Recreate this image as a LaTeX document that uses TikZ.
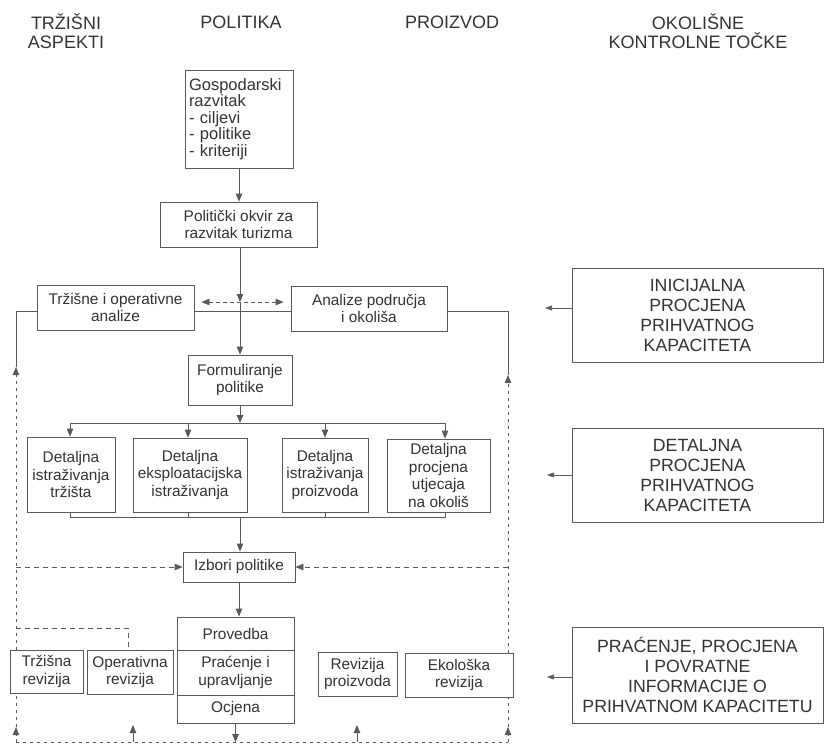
\documentclass[tikz,border=0pt]{standalone}
\usepackage{fontspec}
\setmainfont{Liberation Sans}
\usetikzlibrary{arrows.meta,calc}
\definecolor{ink}{gray}{0.35}
\definecolor{txt}{gray}{0.2}
\begin{document}
\begin{tikzpicture}[x=1pt,y=-1pt,
  box/.style={draw=ink, line width=0.8pt, fill=white, text=txt, inner sep=2pt, align=center, font=\fontsize{15.4}{17.5}\selectfont},
  bigbox/.style={box, font=\fontsize{17.7}{20}\selectfont},
  head/.style={text=txt, align=center, font=\fontsize{18}{19}\selectfont},
  line/.style={draw=ink, line width=0.8pt},
  arr/.style={line, -{Triangle[length=8pt,width=6.5pt]}},
  smallarr/.style={line, line width=0.6pt, -{Triangle[length=7pt,width=5pt]}},
  dline/.style={line, dash pattern=on 5pt off 4pt},
  vline/.style={line, dash pattern=on 3pt off 4pt},
]
\useasboundingbox (0,0) rectangle (827,747);

% headers
\node[head] (h1) at (66,31) {TRŽIŠNI\\ASPEKTI};
\node[head] (h2) at (241,22) {POLITIKA};
\node[head] (h3) at (452,22) {PROIZVOD};
\node[head] (h4) at (698,31) {OKOLIŠNE\\KONTROLNE TOČKE};

% policy column
\node[box, align=left, text width=100pt, inner xsep=4pt, minimum height=98pt, font=\fontsize{16.5}{16.6}\selectfont] (gos) at (239,119) {Gospodarski\\razvitak\\- ciljevi\\- politike\\- kriteriji};
\node[box, minimum width=157pt, minimum height=45pt] (pol) at (238.5,224.5) {Politički okvir za\\razvitak turizma};
\node[box, minimum width=157pt, minimum height=45pt] (trz) at (115.5,307.5) {Tržišne i operativne\\analize};
\node[box, minimum width=156pt, minimum height=45pt] (ana) at (369,308.5) {Analize područja\\i okoliša};
\node[box, minimum width=104pt, minimum height=50pt] (form) at (240,380) {Formuliranje\\politike};
\node[box, minimum width=88pt, minimum height=75pt] (d1) at (71,474.5) {Detaljna\\istraživanja\\tržišta};
\node[box, minimum width=114pt, minimum height=74pt] (d2) at (190,475) {Detaljna\\eksploatacijska\\istraživanja};
\node[box, minimum width=86pt, minimum height=74pt] (d3) at (325,475) {Detaljna\\istraživanja\\proizvoda};
\node[box, minimum width=103pt, minimum height=73pt] (d4) at (438.5,475.5) {Detaljna\\procjena\\utjecaja\\na okoliš};
\node[box, minimum width=112pt, minimum height=30pt] (izb) at (239,567) {Izbori politike};
\node[box, minimum width=117pt, minimum height=33pt] (prov) at (235.5,633.5) {Provedba};
\node[box, minimum width=117pt, minimum height=45pt] (prac) at (235.5,672.5) {Praćenje i\\upravljanje};
\node[box, minimum width=117pt, minimum height=28pt] (ocj) at (235.5,709) {Ocjena};
\node[box, minimum width=73pt, minimum height=43pt] (trev) at (46.5,671.5) {Tržišna\\revizija};
\node[box, minimum width=86pt, minimum height=44pt] (orev) at (130,672) {Operativna\\revizija};
\node[box, minimum width=79pt, minimum height=44pt] (prev) at (357.5,674) {Revizija\\proizvoda};
\node[box, minimum width=108pt, minimum height=44pt] (erev) at (459,675) {Ekološka\\revizija};

% environmental control points
\node[bigbox, minimum width=251pt, minimum height=94pt] (kA) at (697.5,315) {INICIJALNA\\PROCJENA\\PRIHVATNOG\\KAPACITETA};
\node[bigbox, minimum width=251pt, minimum height=94pt] (kB) at (697.5,475) {DETALJNA\\PROCJENA\\PRIHVATNOG\\KAPACITETA};
\node[bigbox, minimum width=251pt, minimum height=96pt] (kC) at (697.5,675) {PRAĆENJE, PROCJENA\\I POVRATNE\\INFORMACIJE O\\PRIHVATNOM KAPACITETU};

% coordinates
\coordinate (m1) at (240,302);
\coordinate (hA) at (0,302);
\coordinate (LT) at (16,311);
\coordinate (RT) at (508,311);
\coordinate (LA) at (16,367);
\coordinate (RA) at (508,375);
\coordinate (LI) at (16,567);
\coordinate (RI) at (508,567);
\coordinate (LO) at (16,628);
\coordinate (OC) at (128,628);
\coordinate (LB) at (16,742);
\coordinate (RB) at (508,742);
\coordinate (LBa) at (16,727);
\coordinate (RBa) at (508,727);
\coordinate (S1) at (133,742);
\coordinate (S1t) at (133,725);
\coordinate (S2) at (357,742);
\coordinate (S2t) at (357,725);
\coordinate (b1) at (70,423);
\coordinate (b2) at (188,423);
\coordinate (b3) at (325,423);
\coordinate (b4) at (445,423);
\coordinate (bm) at (240,423);
\coordinate (c1) at (70,517);
\coordinate (c2) at (188,517);
\coordinate (c3) at (325,517);
\coordinate (c4) at (445,517);
\coordinate (cm) at (240,517);
\coordinate (kAa) at (545,308);
\coordinate (kBa) at (547,475);
\coordinate (kCa) at (547,677);

% main flow
\draw[arr] (gos.south) -- (gos.south |- pol.north);
\draw[arr] (pol.south -| m1) -- (m1);
\draw[arr] (m1) -- (m1 |- form.north);
\draw[line, dash pattern=on 4pt off 3pt, {Triangle[length=8pt,width=6.5pt]}-{Triangle[length=8pt,width=6.5pt]}] ($(trz.east |- hA)+(7,0)$) -- ($(ana.west |- hA)+(-7,0)$);
\draw[line] (LT) -- (trz.west |- LT);
\draw[line] (trz.east |- LT) -- (ana.west |- LT);
\draw[line] (ana.east |- RT) -- (RT);

% branch to detailed studies
\draw[arr] (form.south -| bm) -- (bm);
\draw[line] (b1) -- (b4);
\draw[arr] (b1) -- (b1 |- d1.north);
\draw[arr] (b2) -- (b2 |- d2.north);
\draw[arr] (b3) -- (b3 |- d3.north);
\draw[arr] (b4) -- (b4 |- d4.north);
% collector
\draw[line] (d1.south -| c1) -- (c1) -- (c4) -- (d4.south -| c4);
\draw[line] (d2.south -| c2) -- (c2);
\draw[line] (d3.south -| c3) -- (c3);
\draw[arr] (cm) -- (cm |- izb.north);
\draw[arr] (izb.south) -- (izb.south |- prov.north);
\draw[arr] (ocj.south) -- (ocj.south |- LB);

% feedback loops
\draw[vline] (LB) -- (RB);
\draw[vline, -{Triangle[length=8pt,width=6.5pt]}] (LB) -- (LBa);
\draw[vline] (LBa) -- (trev.south -| LB);
\draw[vline, -{Triangle[length=8pt,width=6.5pt]}] (trev.north -| LT) -- (LA);
\draw[line] (LA) -- (LT);
\draw[vline, -{Triangle[length=8pt,width=6.5pt]}] (RB) -- (RBa);
\draw[vline] (RBa) -- (erev.south -| RB);
\draw[vline, -{Triangle[length=8pt,width=6.5pt]}] (erev.north -| RT) -- (RA);
\draw[line] (RA) -- (RT);
\draw[arr] (S1) -- (S1t);
\draw[arr] (S2) -- (S2t);
\draw[dline, -{Triangle[length=8pt,width=6.5pt]}] (LI) -- (izb.west);
\draw[dline, -{Triangle[length=8pt,width=6.5pt]}] (RI) -- (izb.east);
\draw[dline] (LO) -- (OC) -- (OC |- orev.north);

% control point arrows
\draw[smallarr] (kA.west |- kAa) -- (kAa);
\draw[smallarr] (kB.west |- kBa) -- (kBa);
\draw[smallarr] (kC.west |- kCa) -- (kCa);
\end{tikzpicture}
\end{document}
